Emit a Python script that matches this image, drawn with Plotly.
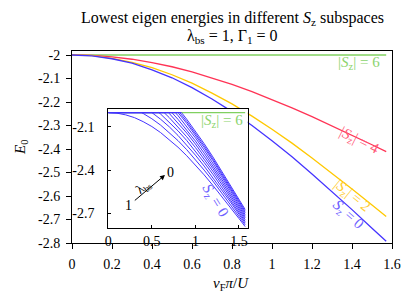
import plotly.graph_objects as go

# ---------------- data ----------------
x_grid = [0, 0.1, 0.2, 0.3, 0.4, 0.5, 0.6, 0.7, 0.8, 0.9, 1.0, 1.1, 1.2, 1.3, 1.4, 1.5, 1.571]
e_sz6 = [-2.0, -2.0, -2.0, -2.0, -2.0, -2.0, -2.0, -2.0, -2.0, -2.0, -2.0, -2.0, -2.0, -2.0, -2.0, -2.0, -2.0]
e_sz4 = [-2.0, -2.002, -2.008, -2.018, -2.032, -2.050, -2.072, -2.097, -2.125, -2.156, -2.189, -2.225, -2.262, -2.301, -2.341, -2.382, -2.411]
e_sz2 = [-2.0, -2.003, -2.014, -2.031, -2.054, -2.084, -2.120, -2.162, -2.208, -2.260, -2.316, -2.375, -2.438, -2.503, -2.570, -2.638, -2.687]
e_sz0 = [-2.0, -2.004, -2.016, -2.035, -2.063, -2.097, -2.139, -2.187, -2.241, -2.300, -2.365, -2.433, -2.506, -2.581, -2.658, -2.737, -2.793]

# inset: lowest Sz=0 energy for lambda_bs = 1 ... 0
lam_values = [1.0, 0.9, 0.8, 0.7, 0.6, 0.5, 0.4, 0.3, 0.2, 0.1, 0.0]
depart_x = [0.0, 0.38, 0.50, 0.58, 0.64, 0.69, 0.73, 0.77, 0.80, 0.82, 0.84]
e_lam10 = e_sz0
e_lam09 = [-2.006, -2.043, -2.087, -2.138, -2.195, -2.258, -2.327, -2.400, -2.476, -2.556, -2.638, -2.722, -2.781]
e_lam08 = [-2.046, -2.099, -2.159, -2.224, -2.296, -2.372, -2.452, -2.535, -2.620, -2.707, -2.769]
e_lam07 = [-2.010, -2.065, -2.127, -2.194, -2.268, -2.347, -2.429, -2.515, -2.603, -2.693, -2.757]
e_lam06 = [-2.035, -2.098, -2.168, -2.243, -2.324, -2.408, -2.497, -2.587, -2.679, -2.745]
e_lam05 = [-2.006, -2.071, -2.142, -2.219, -2.302, -2.389, -2.479, -2.571, -2.666, -2.733]
e_lam04 = [-2.047, -2.120, -2.198, -2.282, -2.370, -2.462, -2.557, -2.653, -2.721]
e_lam03 = [-2.021, -2.095, -2.176, -2.261, -2.351, -2.445, -2.541, -2.639, -2.709]
e_lam02 = [-2.075, -2.156, -2.243, -2.334, -2.429, -2.527, -2.626, -2.697]
e_lam01 = [-2.061, -2.143, -2.230, -2.322, -2.417, -2.515, -2.615, -2.686]
e_lam00 = [-2.046, -2.128, -2.216, -2.308, -2.404, -2.502, -2.603, -2.674]
inset_tails = [e_lam09, e_lam08, e_lam07, e_lam06, e_lam05, e_lam04, e_lam03, e_lam02, e_lam01, e_lam00]

main_xticks = [0, 0.2, 0.4, 0.6, 0.8, 1.0, 1.2, 1.4, 1.6]
main_xtext = ["0", "0.2", "0.4", "0.6", "0.8", "1", "1.2", "1.4", "1.6"]
main_yticks = [-2.0, -2.1, -2.2, -2.3, -2.4, -2.5, -2.6, -2.7, -2.8]
main_ytext = ["-2", "-2.1", "-2.2", "-2.3", "-2.4", "-2.5", "-2.6", "-2.7", "-2.8"]
inset_xticks = [0, 0.5, 1.0, 1.5]
inset_xtext = ["0", "0.5", "1", "1.5"]
inset_yticks = [-2.1, -2.4, -2.7]
inset_ytext = ["-2.1", "-2.4", "-2.7"]

# ---------------- styling ----------------
FONT = "Liberation Serif"
C_GREEN, C_RED, C_YEL, C_BLUE = "#80d060", "#ff3355", "#ffc800", "#4433ff"
L_GREEN, L_RED, L_YEL, L_BLUE = "#8cd46e", "#ff5a78", "#ffcc33", "#6e60ff"
W, H = 415, 297
ML, MR, MT, MB = 72, 23, 51, 54
PW, PH = W - ML - MR, H - MT - MB


def px2paper(px, py):
    return (px - ML) / PW, (H - MB - py) / PH


fig = go.Figure()
for ys, col in [(e_sz6, C_GREEN), (e_sz4, C_RED), (e_sz2, C_YEL), (e_sz0, C_BLUE)]:
    fig.add_trace(go.Scatter(x=x_grid, y=ys, mode="lines", line=dict(color=col, width=1.3),
                             showlegend=False, xaxis="x", yaxis="y"))

# inset traces
fig.add_trace(go.Scatter(x=x_grid, y=e_sz6, mode="lines", line=dict(color=C_GREEN, width=1.2),
                         showlegend=False, xaxis="x2", yaxis="y2"))
fig.add_trace(go.Scatter(x=x_grid, y=e_lam10, mode="lines", line=dict(color=C_BLUE, width=1),
                         showlegend=False, xaxis="x2", yaxis="y2"))
for x0, tail in zip(depart_x[1:], inset_tails):
    xs = [0, x0] + [g for g in x_grid if g > x0]
    ys = [-2.0, -2.0] + tail
    fig.add_trace(go.Scatter(x=xs, y=ys, mode="lines", line=dict(color=C_BLUE, width=1),
                             showlegend=False, xaxis="x2", yaxis="y2"))

axis_common = dict(showgrid=False, zeroline=False, showline=True, linecolor="black",
                   linewidth=1, mirror=True, tickcolor="black",
                   tickfont=dict(family=FONT, size=14, color="black"))

ix0, iy1 = px2paper(108.3, 109)
ix1, iy0 = px2paper(247.7, 228.3)

fig.update_layout(
    width=W, height=H, margin=dict(l=ML, r=MR, t=MT, b=MB),
    paper_bgcolor="white", plot_bgcolor="white",
    font=dict(family=FONT, size=14, color="black"),
    xaxis=dict(domain=[0, 1], range=[0, 1.6], tickvals=main_xticks, ticktext=main_xtext,
               ticks="outside", ticklen=5, anchor="y", ticklabelstandoff=3, **axis_common),
    yaxis=dict(domain=[0, 1], range=[-2.8, -1.983], tickvals=main_yticks, ticktext=main_ytext,
               ticks="outside", ticklen=5, anchor="x", ticklabelstandoff=3, **axis_common),
    xaxis2=dict(domain=[ix0, ix1], range=[0, 1.6], tickvals=inset_xticks, ticktext=inset_xtext,
                ticks="inside", ticklen=3, anchor="y2", **axis_common),
    yaxis2=dict(domain=[iy0, iy1], range=[-2.805, -1.975], tickvals=inset_yticks, ticktext=inset_ytext,
                ticks="inside", ticklen=3, anchor="x2", ticklabelstandoff=10, **axis_common),
)

ann = []


def add_text(px, py, text, color="black", size=14, angle=0):
    x, y = px2paper(px, py)
    ann.append(dict(x=x, y=y, xref="paper", yref="paper", text=text, showarrow=False,
                    xanchor="center", yanchor="middle", textangle=angle,
                    font=dict(family=FONT, size=size, color=color)))


SZ = "<i>S</i><sub>z</sub>"
add_text(232, 19, "Lowest eigen energies in different " + SZ + " subspaces", size=16)
add_text(232, 37, "λ<sub>bs</sub> = 1, Γ<sub>1</sub> = 0", size=16)
add_text(21, 148, "<i>E</i><sub>0</sub>", size=15, angle=-90)
add_text(231, 284, "<i>v</i><sub>F</sub><i>π</i>/<i>U</i>", size=15)

add_text(359, 63, "|" + SZ + "| = 6", color=L_GREEN, size=15)
add_text(359, 141, "|" + SZ + "| = 4", color=L_RED, size=15, angle=27)
add_text(352, 196, "|" + SZ + "| = 2", color=L_YEL, size=15, angle=39)
add_text(348, 215, SZ + " = 0", color=L_BLUE, size=15, angle=42)

add_text(222, 121, "|" + SZ + "| = 6", color=L_GREEN, size=15)
add_text(215, 201, SZ + " = 0", color=L_BLUE, size=15, angle=58)
add_text(128, 205, "1", size=14)
add_text(170, 172, "0", size=14)
add_text(143, 187, "λ<sub>bs</sub>", size=13, angle=-40)

hx, hy = px2paper(165, 175)
ann.append(dict(x=hx, y=hy, xref="paper", yref="paper", text="", showarrow=True,
                ax=-31.7, ay=26.7, axref="pixel", ayref="pixel", arrowhead=2, arrowsize=1,
                arrowwidth=1, arrowcolor="black"))

fig.update_layout(annotations=ann)
fig.write_html("out.html", config={"displayModeBar": False},
               post_script="document.body.style.margin='0px';")
